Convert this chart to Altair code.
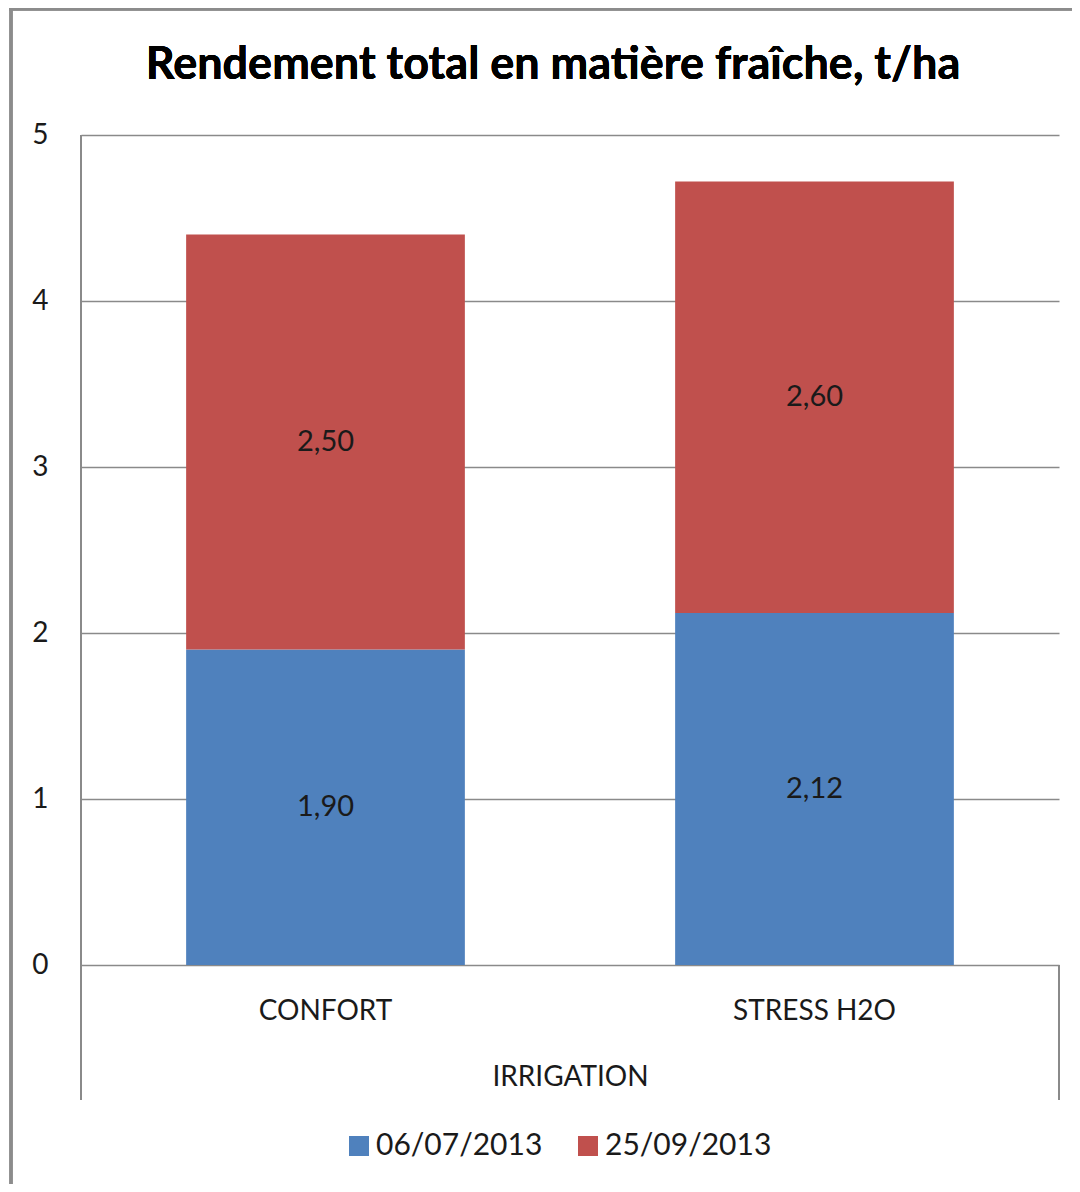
import altair as alt
import pandas as pd

categories = ["CONFORT", "STRESS H2O"]
series = ["06/07/2013", "25/09/2013"]
values_0607 = [1.90, 2.12]
values_2509 = [2.50, 2.60]
colors = ["#4F81BD", "#C0504D"]

rows = []
for i, c in enumerate(categories):
    cum = 0.0
    for s, v in zip(series, [values_0607[i], values_2509[i]]):
        rows.append({"cat": c, "serie": s, "val": v, "order": series.index(s),
                     "mid": cum + v / 2, "lab": f"{v:.2f}".replace(".", ",")})
        cum += v
df = pd.DataFrame(rows)

FONT = "Lato"
W, H = 978, 830

x_enc = alt.X("cat:N", sort=categories,
              scale=alt.Scale(paddingInner=0.43, paddingOuter=0.215),
              axis=alt.Axis(title="IRRIGATION", labelAngle=0, labelFontSize=28,
                            labelFont=FONT, labelColor="#1a1a1a", labelPadding=32,
                            ticks=False, domain=False, titleFontSize=28,
                            titleFont=FONT, titleFontWeight="normal",
                            titleColor="#1a1a1a", titlePadding=38))

bars = alt.Chart(df).mark_bar().encode(
    x=x_enc,
    y=alt.Y("val:Q", stack="zero",
            scale=alt.Scale(domain=[0, 5], nice=False),
            axis=alt.Axis(values=[0, 1, 2, 3, 4, 5], format="d", title=None,
                          labelFontSize=28, labelFont=FONT, labelColor="#1a1a1a",
                          labelPadding=33, ticks=False, domain=False, grid=True,
                          gridColor="#8a8a8a", gridWidth=1.5)),
    color=alt.Color("serie:N", sort=series,
                    scale=alt.Scale(domain=series, range=colors),
                    legend=alt.Legend(title=None, orient="none", direction="horizontal",
                                      legendX=263, legendY=996, symbolType="square",
                                      symbolSize=400, symbolStrokeWidth=0,
                                      labelFontSize=30, labelFont=FONT, labelLimit=400,
                                      labelColor="#1a1a1a", columnPadding=30,
                                      labelOffset=2)),
    order=alt.Order("order:Q"),
)

labels = alt.Chart(df).mark_text(fontSize=29, font=FONT, color="#1a1a1a").encode(
    x=alt.X("cat:N", sort=categories),
    y=alt.Y("mid:Q"),
    text="lab:N",
)

title = alt.Chart(df).mark_text(fontSize=45, font=FONT, fontWeight="bold",
                                color="#000000", baseline="middle").encode(
    x=alt.value(472), y=alt.value(-70), text=alt.value("Rendement total en matière fraîche, t/ha"))

left_line = alt.Chart(df).mark_rule(color="#8a8a8a", strokeWidth=1.5).encode(
    x=alt.value(0), y=alt.value(0), y2=alt.value(965))
right_line = alt.Chart(df).mark_rule(color="#8a8a8a", strokeWidth=1.5).encode(
    x=alt.value(W), y=alt.value(H), y2=alt.value(965))
frame_top = alt.Chart(df).mark_rule(color="#8c8c8c", strokeWidth=3).encode(
    x=alt.value(-72), x2=alt.value(W + 13), y=alt.value(-126))
frame_left = alt.Chart(df).mark_rule(color="#8c8c8c", strokeWidth=3).encode(
    x=alt.value(-70), y=alt.value(-127), y2=alt.value(H + 219))

chart = alt.layer(frame_top, frame_left, bars, labels, title, left_line, right_line).properties(
    width=W, height=H,
    padding={"left": 73, "top": 127, "right": 13, "bottom": 219},
    autosize=alt.AutoSizeParams(type="none"),
    background="white",
).configure_view(stroke=None)

chart.save("out.html", embed_options={"renderer": "svg", "actions": False})
